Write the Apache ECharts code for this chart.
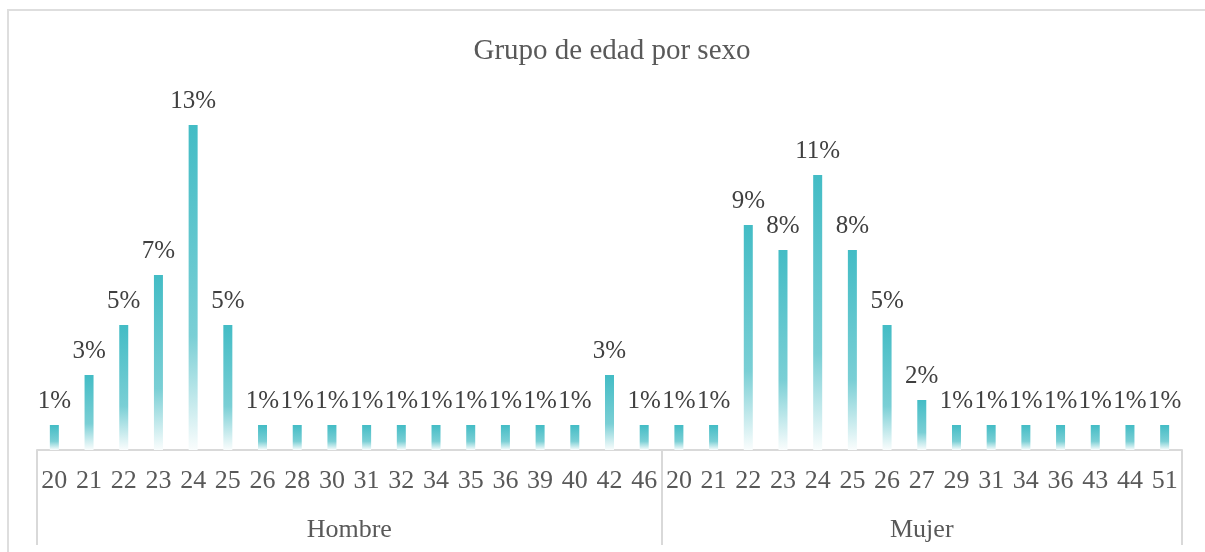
<!DOCTYPE html>
<html>
<head>
<meta charset="utf-8">
<script src="https://cdn.jsdelivr.net/npm/echarts@6/dist/echarts.min.js"></script>
<style>
html,body{margin:0;padding:0;background:#fff;overflow:hidden;}
#frame{position:absolute;left:7px;top:9px;width:1400px;height:700px;border:2px solid #DEDEDE;box-sizing:border-box;}
#chart{position:absolute;left:0;top:0;width:1205px;height:552px;}
</style>
</head>
<body>
<div id="frame"></div>
<div id="chart"></div>
<script>
const titleText = 'Grupo de edad por sexo';
const groups = ['Hombre', 'Mujer'];
const hombreAges = ['20','21','22','23','24','25','26','28','30','31','32','34','35','36','39','40','42','46'];
const hombreValues = [1,3,5,7,13,5,1,1,1,1,1,1,1,1,1,1,3,1];
const mujerAges = ['20','21','22','23','24','25','26','27','29','31','34','36','43','44','51'];
const mujerValues = [1,1,9,8,11,8,5,2,1,1,1,1,1,1,1];

const categories = hombreAges.concat(mujerAges);
const values = hombreValues.concat(mujerValues);

// group axis: half-category resolution with boundaryGap false
const counts = [hombreAges.length, mujerAges.length];
const groupAxisData = [];
const groupTickIdx = [0];
let acc = 0;
counts.forEach(c => { acc += c; groupTickIdx.push(acc * 2); });
for (let i = 0; i <= categories.length * 2; i++) groupAxisData.push('');
acc = 0;
counts.forEach((c, gi) => { groupAxisData[acc * 2 + c] = groups[gi]; acc += c; });

const font = '"Liberation Serif", "Times New Roman", serif';
const chart = echarts.init(document.getElementById('chart'));
chart.setOption({
  animation: false,
  backgroundColor: 'transparent',
  title: {
    text: titleText,
    left: 607, top: 32, textAlign: 'center',
    textStyle: { fontFamily: font, fontSize: 29, fontWeight: 'normal', color: '#595959' }
  },
  grid: { left: 37, right: 23, top: 100, bottom: 102, containLabel: false },
  xAxis: [
    {
      type: 'category', data: categories, position: 'bottom',
      axisLine: { show: true, lineStyle: { color: '#D9D9D9', width: 2 } },
      axisTick: { show: false },
      axisLabel: { interval: 0, margin: 18, fontFamily: font, fontSize: 26, color: '#595959' }
    },
    {
      type: 'category', data: groupAxisData, position: 'bottom', boundaryGap: false,
      axisLine: { show: false },
      axisTick: {
        show: true, length: 95, inside: false,
        interval: (idx) => groupTickIdx.indexOf(idx) >= 0,
        lineStyle: { color: '#D9D9D9', width: 2 }
      },
      axisLabel: { interval: 0, margin: 67, fontFamily: font, fontSize: 26, color: '#595959' }
    }
  ],
  yAxis: { type: 'value', min: 0, max: 14, show: false, splitLine: { show: false } },
  series: [{
    type: 'bar', xAxisIndex: 0, data: values, barWidth: 9,
    itemStyle: {
      color: new echarts.graphic.LinearGradient(0, 0, 0, 1, [
        { offset: 0, color: '#43BCC5' },
        { offset: 0.65, color: '#7ACFD5' },
        { offset: 1, color: '#FAFDFD' }
      ])
    },
    label: {
      show: true, position: 'top', distance: 11,
      formatter: '{c}%', fontFamily: font, fontSize: 25, color: '#404040'
    }
  }]
});
</script>
</body>
</html>
